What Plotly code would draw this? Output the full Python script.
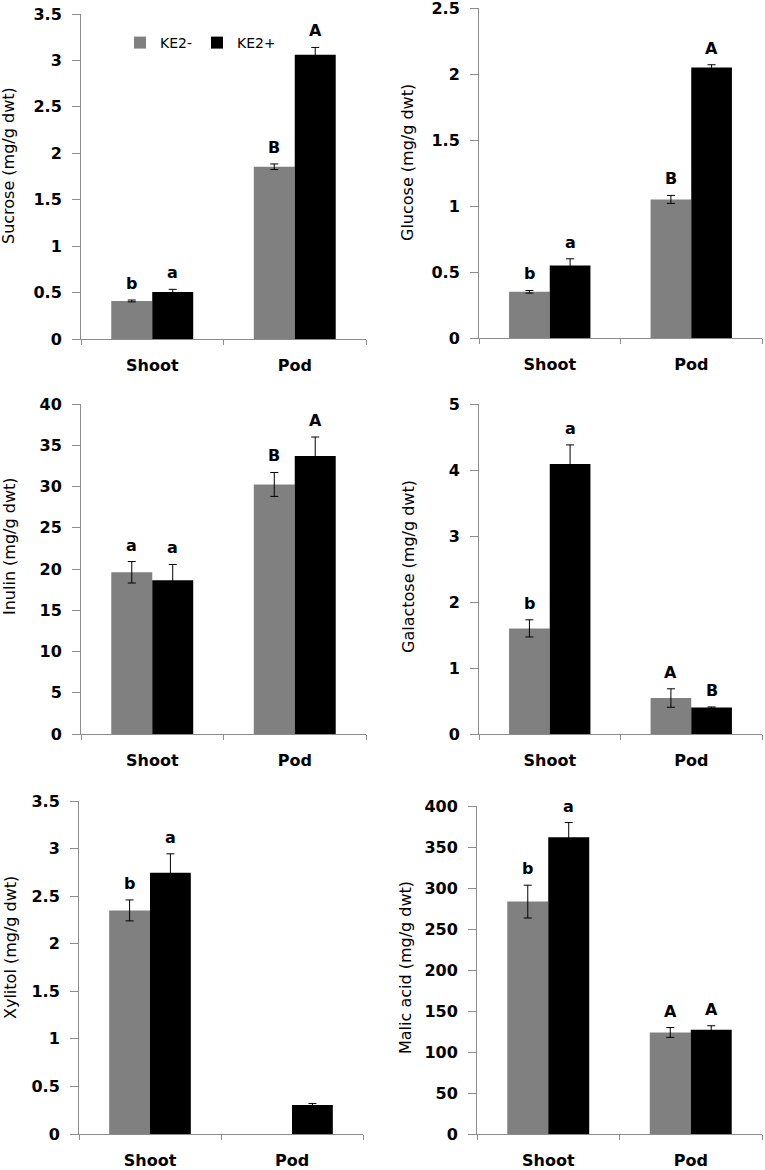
import plotly.graph_objects as go

# ---------------- data ----------------
categories = ["Shoot", "Pod"]
series_names = ["KE2-", "KE2+"]

sucrose_minus = [0.41, 1.855]
sucrose_minus_err = [0.01, 0.03]
sucrose_plus = [0.505, 3.06]
sucrose_plus_err = [0.03, 0.08]
sucrose_letters_minus = ["b", "B"]
sucrose_letters_plus = ["a", "A"]

glucose_minus = [0.35, 1.05]
glucose_minus_err = [0.01, 0.03]
glucose_plus = [0.55, 2.05]
glucose_plus_err = [0.05, 0.02]
glucose_letters_minus = ["b", "B"]
glucose_letters_plus = ["a", "A"]

inulin_minus = [19.6, 30.25]
inulin_minus_err = [1.3, 1.45]
inulin_plus = [18.65, 33.7]
inulin_plus_err = [1.9, 2.3]
inulin_letters_minus = ["a", "B"]
inulin_letters_plus = ["a", "A"]

galactose_minus = [1.6, 0.545]
galactose_minus_err = [0.13, 0.14]
galactose_plus = [4.09, 0.40]
galactose_plus_err = [0.29, 0.01]
galactose_letters_minus = ["b", "A"]
galactose_letters_plus = ["a", "B"]

xylitol_minus = [2.35, None]
xylitol_minus_err = [0.11, 0]
xylitol_plus = [2.745, 0.305]
xylitol_plus_err = [0.20, 0.015]
xylitol_letters_minus = ["b", ""]
xylitol_letters_plus = ["a", ""]

malic_minus = [283.4, 123.8]
malic_minus_err = [20, 6]
malic_plus = [361.8, 127]
malic_plus_err = [18, 5]
malic_letters_minus = ["b", "A"]
malic_letters_plus = ["a", "A"]

sucrose_ticks = [0, 0.5, 1, 1.5, 2, 2.5, 3, 3.5]
sucrose_ticktext = ["0", "0.5", "1", "1.5", "2", "2.5", "3", "3.5"]
glucose_ticks = [0, 0.5, 1, 1.5, 2, 2.5]
glucose_ticktext = ["0", "0.5", "1", "1.5", "2", "2.5"]
inulin_ticks = [0, 5, 10, 15, 20, 25, 30, 35, 40]
inulin_ticktext = ["0", "5", "10", "15", "20", "25", "30", "35", "40"]
galactose_ticks = [0, 1, 2, 3, 4, 5]
galactose_ticktext = ["0", "1", "2", "3", "4", "5"]
xylitol_ticks = [0, 0.5, 1, 1.5, 2, 2.5, 3, 3.5]
xylitol_ticktext = ["0", "0.5", "1", "1.5", "2", "2.5", "3", "3.5"]
malic_ticks = [0, 50, 100, 150, 200, 250, 300, 350, 400]
malic_ticktext = ["0", "50", "100", "150", "200", "250", "300", "350", "400"]

titles = ["Sucrose (mg/g dwt)", "Glucose (mg/g dwt)", "Inulin (mg/g dwt)",
          "Galactose (mg/g dwt)", "Xylitol (mg/g dwt)", "Malic acid (mg/g dwt)"]

# ---------------- layout helpers ----------------
W, H = 765, 1170
FONT = "DejaVu Sans"
GRAY = "#808080"
AXIS_GRAY = "#8c8c8c"
BARGAP = 0.425
OFF = (1 - BARGAP) / 4

panels = [
    dict(minus=sucrose_minus, me=sucrose_minus_err, plus=sucrose_plus, pe=sucrose_plus_err,
         lm=sucrose_letters_minus, lp=sucrose_letters_plus, tv=sucrose_ticks, tt=sucrose_ticktext,
         px=(81, 366), py=(14, 339), title_xy=(9, 166)),
    dict(minus=glucose_minus, me=glucose_minus_err, plus=glucose_plus, pe=glucose_plus_err,
         lm=glucose_letters_minus, lp=glucose_letters_plus, tv=glucose_ticks, tt=glucose_ticktext,
         px=(479, 762), py=(8, 338), title_xy=(408, 163)),
    dict(minus=inulin_minus, me=inulin_minus_err, plus=inulin_plus, pe=inulin_plus_err,
         lm=inulin_letters_minus, lp=inulin_letters_plus, tv=inulin_ticks, tt=inulin_ticktext,
         px=(81, 366), py=(404, 734), title_xy=(9, 546)),
    dict(minus=galactose_minus, me=galactose_minus_err, plus=galactose_plus, pe=galactose_plus_err,
         lm=galactose_letters_minus, lp=galactose_letters_plus, tv=galactose_ticks, tt=galactose_ticktext,
         px=(479, 762), py=(404, 734), title_xy=(408, 567)),
    dict(minus=xylitol_minus, me=xylitol_minus_err, plus=xylitol_plus, pe=xylitol_plus_err,
         lm=xylitol_letters_minus, lp=xylitol_letters_plus, tv=xylitol_ticks, tt=xylitol_ticktext,
         px=(79, 363), py=(801, 1134), title_xy=(10, 948)),
    dict(minus=malic_minus, me=malic_minus_err, plus=malic_plus, pe=malic_plus_err,
         lm=malic_letters_minus, lp=malic_letters_plus, tv=malic_ticks, tt=malic_ticktext,
         px=(477, 762), py=(806, 1134), title_xy=(406, 968)),
]

fig = go.Figure()
annotations = []
layout = {}

for n, p in enumerate(panels, start=1):
    xa = "x" if n == 1 else f"x{n}"
    ya = "y" if n == 1 else f"y{n}"
    for vals, errs, color, name in [(p["minus"], p["me"], GRAY, series_names[0]),
                                    (p["plus"], p["pe"], "#000000", series_names[1])]:
        fig.add_trace(go.Bar(
            x=categories, y=vals, name=name, marker=dict(color=color, line=dict(width=0)),
            error_y=dict(type="data", array=errs, color="#000000", thickness=1, width=4),
            xaxis=xa, yaxis=ya, showlegend=(n == 1), legendgroup=name,
        ))
    ymax = p["tv"][-1]
    layout["xaxis" if n == 1 else f"xaxis{n}"] = dict(
        domain=[p["px"][0] / W, p["px"][1] / W], anchor=ya, automargin=False,
        showline=True, linecolor=AXIS_GRAY, linewidth=1, ticks="outside",
        tickson="boundaries", ticklen=5, tickcolor=AXIS_GRAY,
        tickfont=dict(family=FONT, size=16, color="black", weight="bold"),
        ticklabelstandoff=12, ticklabeloverflow="allow",
        showgrid=False, zeroline=False, fixedrange=True,
    )
    layout["yaxis" if n == 1 else f"yaxis{n}"] = dict(
        domain=[1 - p["py"][1] / H, 1 - p["py"][0] / H], anchor=xa, automargin=False,
        range=[0, ymax], tickvals=p["tv"], ticktext=p["tt"],
        showline=True, linecolor=AXIS_GRAY, linewidth=1, ticks="outside",
        ticklen=8, tickcolor=AXIS_GRAY,
        tickfont=dict(family=FONT, size=16, color="black", weight="bold"),
        ticklabelstandoff=7, ticklabeloverflow="allow",
        showgrid=False, zeroline=False, fixedrange=True,
    )
    # significance letters
    for i in range(len(categories)):
        for vals, errs, letters, sign in [(p["minus"], p["me"], p["lm"], -1),
                                          (p["plus"], p["pe"], p["lp"], 1)]:
            if vals[i] is None or not letters[i]:
                continue
            annotations.append(dict(
                x=i + sign * OFF, y=vals[i] + errs[i], xref=xa, yref=ya,
                text=letters[i], showarrow=False, yanchor="bottom", yshift=5,
                font=dict(family=FONT, size=16, color="black", weight="bold"),
            ))
    # y-axis title
    tx, ty = p["title_xy"]
    annotations.append(dict(
        x=tx / W, y=1 - ty / H, xref="paper", yref="paper", text=titles[n - 1],
        textangle=-90, showarrow=False, xanchor="center", yanchor="middle",
        font=dict(family=FONT, size=16, color="black"),
    ))

fig.update_layout(
    template="none",
    width=W, height=H, margin=dict(l=0, r=0, t=0, b=0, autoexpand=False),
    paper_bgcolor="white", plot_bgcolor="white",
    barmode="group", bargap=BARGAP, bargroupgap=0,
    showlegend=True, hovermode=False,
    legend=dict(orientation="h", x=120 / W, y=1 - 27 / H, xanchor="left", yanchor="top",
                font=dict(family=FONT, size=14, color="black"),
                entrywidth=32, entrywidthmode="pixels", bgcolor="rgba(0,0,0,0)",
                itemclick=False, itemdoubleclick=False),
    annotations=annotations,
    font=dict(family=FONT),
    **layout,
)

fig.write_html("out.html", config={"displayModeBar": False},
               post_script="document.body.style.margin='0';")
